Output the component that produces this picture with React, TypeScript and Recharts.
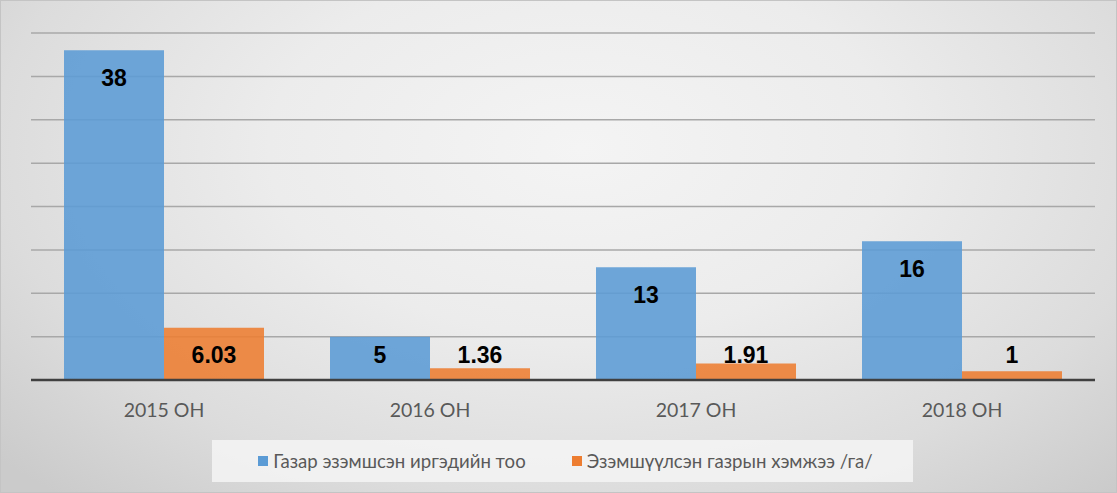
import React from 'react';
import { BarChart, Bar, XAxis, YAxis, CartesianGrid, Legend, LabelList } from 'recharts';

const categories = ['2015 ОН', '2016 ОН', '2017 ОН', '2018 ОН'];
const citizens = [38, 5, 13, 16];
const area = [6.03, 1.36, 1.91, 1];
const seriesNames = ['Газар эзэмшсэн иргэдийн тоо', 'Эзэмшүүлсэн газрын хэмжээ /га/'];
const yTicks = [0, 5, 10, 15, 20, 25, 30, 35, 40];

const data = categories.map((c, i) => ({ name: c, citizens: citizens[i], area: area[i] }));

const BarLabel = (props: any) => {
  const { x, y, width, height, value } = props;
  const top = Number(y);
  const bottom = top + Number(height);
  const cy = Math.min(top + 27.5, bottom - 25);
  return (
    <text
      x={Number(x) + Number(width) / 2}
      y={cy}
      textAnchor="middle"
      dominantBaseline="central"
      fontFamily="'Liberation Sans', Arial, sans-serif"
      fontWeight="bold"
      fontSize={23}
      fill="#000"
    >
      {String(value)}
    </text>
  );
};

const LegendContent = (props: any) => {
  const { payload } = props;
  return (
    <div
      style={{
        width: 701,
        height: 42,
        background: 'rgba(244,244,244,0.85)',
        display: 'flex',
        alignItems: 'center',
        justifyContent: 'center',
        gap: 46,
        paddingLeft: 6,
        boxSizing: 'border-box',
        fontFamily: "Lato, 'Open Sans', sans-serif",
        fontSize: 18.6,
        color: '#595959',
      }}
    >
      {(payload || []).map((p: any) => (
        <div key={p.value} style={{ display: 'flex', alignItems: 'center' }}>
          <span style={{ display: 'inline-block', width: 10, height: 10, background: p.color, marginRight: 5 }} />
          <span>{p.value}</span>
        </div>
      ))}
    </div>
  );
};

export default function App() {
  return (
    <div
      style={{
        position: 'absolute',
        left: 0,
        top: 0,
        width: 1117,
        height: 493,
        boxSizing: 'border-box',
        border: '1px solid #c4c4c4',
        background:
          'radial-gradient(ellipse 70% 95% at 52% 30%, #f4f4f4 0%, #ececec 40%, #dcdcdc 75%, #cbcbcb 100%)',
      }}
    >
      <div style={{ position: 'absolute', left: -1, top: -1 }}>
        <BarChart
          width={1117}
          height={493}
          data={data}
          margin={{ top: 33, right: 22, left: 31, bottom: 83 }}
          barCategoryGap={33}
          barGap={0}
        >
          <CartesianGrid vertical={false} stroke="#a8a8a8" strokeWidth={1.5} />
          <YAxis hide domain={[0, 40]} ticks={yTicks} />
          <XAxis
            dataKey="name"
            height={30}
            tickLine={false}
            axisLine={{ stroke: '#404040', strokeWidth: 2.5 }}
            tickMargin={17}
            tick={{ fill: '#595959', fontSize: 19.5, fontFamily: "Lato, 'Open Sans', sans-serif" }}
          />
          <Legend
            verticalAlign="middle"
            align="center"
            layout="horizontal"
            wrapperStyle={{ left: 212, top: 440, width: 701 }}
            content={<LegendContent />}
          />
          <Bar dataKey="citizens" name={seriesNames[0]} fill="#5b9bd5" fillOpacity={0.88} isAnimationActive={false}>
            <LabelList dataKey="citizens" content={<BarLabel />} />
          </Bar>
          <Bar dataKey="area" name={seriesNames[1]} fill="#ed7d31" fillOpacity={0.88} isAnimationActive={false}>
            <LabelList dataKey="area" content={<BarLabel />} />
          </Bar>
        </BarChart>
      </div>
    </div>
  );
}
